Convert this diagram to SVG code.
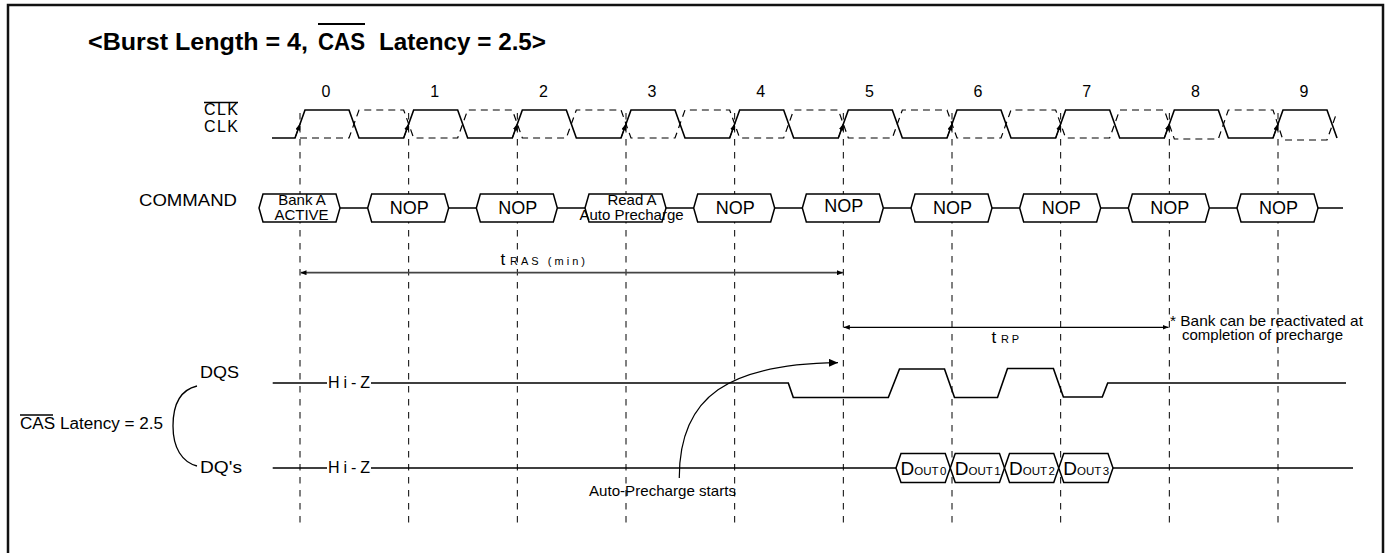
<svg xmlns="http://www.w3.org/2000/svg" width="1388" height="553" viewBox="0 0 1388 553">
<style>
.t{font-family:"Liberation Sans",Arial,sans-serif;fill:#000}
.b{font-weight:bold}
.sig{fill:none;stroke:#000;stroke-width:1.6;stroke-linejoin:miter}
.cdash{fill:none;stroke:#000;stroke-width:1.2;stroke-dasharray:7 5}
.grid{stroke:#000;stroke-width:1;stroke-dasharray:6.5 6.5}
.box{fill:#fff;stroke:#000;stroke-width:1.5}
.ov{stroke:#000;stroke-width:1.4}
</style>
<defs>
<marker id="edge" markerUnits="userSpaceOnUse" markerWidth="7" markerHeight="5" refX="7" refY="2.5" orient="auto"><path d="M0,0 L7,2.5 L0,5 z" fill="#000"/></marker>
<marker id="dim" markerUnits="userSpaceOnUse" markerWidth="6" markerHeight="5" refX="6" refY="2.5" orient="auto-start-reverse"><path d="M0,0 L6,2.5 L0,5 z" fill="#000"/></marker>
<marker id="big" markerUnits="userSpaceOnUse" markerWidth="9" markerHeight="8" refX="9" refY="4" orient="auto"><path d="M0,0 L9,4 L0,8 z" fill="#000"/></marker>
</defs>
<rect width="1388" height="553" fill="#fff"/>
<rect x="8" y="5" width="1375" height="600" fill="none" stroke="#111" stroke-width="2.5"/>

<g id="title">
<text class="t b" x="88" y="50" font-size="24" textLength="220" lengthAdjust="spacingAndGlyphs">&lt;Burst Length = 4,</text>
<text class="t b" x="318" y="50" font-size="24" textLength="47" lengthAdjust="spacingAndGlyphs">CAS</text>
<line x1="318" y1="24" x2="365" y2="24" stroke="#000" stroke-width="2"/>
<text class="t b" x="379" y="50" font-size="24" textLength="167" lengthAdjust="spacingAndGlyphs">Latency = 2.5&gt;</text>
</g>

<g id="grid">
<line class="grid" x1="300" y1="113" x2="300" y2="525"/>
<line class="grid" x1="408.67" y1="113" x2="408.67" y2="525"/>
<line class="grid" x1="517.33" y1="113" x2="517.33" y2="525"/>
<line class="grid" x1="626" y1="113" x2="626" y2="525"/>
<line class="grid" x1="734.67" y1="113" x2="734.67" y2="525"/>
<line class="grid" x1="843.33" y1="113" x2="843.33" y2="525"/>
<line class="grid" x1="952" y1="113" x2="952" y2="525"/>
<line class="grid" x1="1060.67" y1="113" x2="1060.67" y2="525"/>
<line class="grid" x1="1169.33" y1="113" x2="1169.33" y2="525"/>
<line class="grid" x1="1278" y1="113" x2="1278" y2="525"/>
</g>

<g id="clock-numbers" class="t" font-size="16" text-anchor="middle">
<text x="326" y="97">0</text>
<text x="434.67" y="97">1</text>
<text x="543.33" y="97">2</text>
<text x="652" y="97">3</text>
<text x="760.67" y="97">4</text>
<text x="869.33" y="97">5</text>
<text x="978" y="97">6</text>
<text x="1086.67" y="97">7</text>
<text x="1195.33" y="97">8</text>
<text x="1304" y="97">9</text>
</g>

<g id="clk">
<text class="t" x="204" y="115" font-size="16" textLength="34" lengthAdjust="spacing">CLK</text>
<line class="ov" x1="204" y1="102.5" x2="238" y2="102.5"/>
<text class="t" x="204" y="132" font-size="16" textLength="34" lengthAdjust="spacing">CLK</text>
<path class="cdash" d="M300,138 H349 L359,110 H403.67 L413.67,138 H457.67 L467.67,110 H512.33 L522.33,138 H566.33 L576.33,110 H621 L631,138 H675 L685,110 H729.67 L739.67,138 H783.67 L793.67,110 H838.33 L848.33,138 H892.33 L902.33,110 H947 L957,138 H1001 L1011,110 H1055.67 L1065.67,138 H1109.67 L1119.67,110 H1164.33 L1174.33,139 H1218.33 L1228.33,110 H1273 L1283,140 H1327 L1337,112"/>
<path class="sig" d="M272,138 H295 L305,110 H349 L359,138 H403.67 L413.67,110 H457.67 L467.67,138 H512.33 L522.33,110 H566.33 L576.33,138 H621 L631,110 H675 L685,138 H729.67 L739.67,110 H783.67 L793.67,138 H838.33 L848.33,110 H892.33 L902.33,138 H947 L957,110 H1001 L1011,138 H1055.67 L1065.67,110 H1109.67 L1119.67,138 H1164.33 L1174.33,110 H1218.33 L1228.33,138 H1273 L1283,110 H1327 L1337,138"/>
<g stroke="#000" stroke-width="1" marker-end="url(#edge)">
<line x1="295" y1="138" x2="300.2" y2="123.5"/>
<line x1="403.67" y1="138" x2="408.87" y2="123.5"/>
<line x1="512.33" y1="138" x2="517.53" y2="123.5"/>
<line x1="621" y1="138" x2="626.2" y2="123.5"/>
<line x1="729.67" y1="138" x2="734.87" y2="123.5"/>
<line x1="838.33" y1="138" x2="843.53" y2="123.5"/>
<line x1="947" y1="138" x2="952.2" y2="123.5"/>
<line x1="1055.67" y1="138" x2="1060.87" y2="123.5"/>
<line x1="1164.33" y1="138" x2="1169.53" y2="123.5"/>
<line x1="1273" y1="138" x2="1278.2" y2="123.5"/>
</g>
</g>

<g id="command-label"><text class="t" x="139" y="206" font-size="17" textLength="98" lengthAdjust="spacingAndGlyphs">COMMAND</text></g>

<g id="command-bus" class="sig">
<path d="M340,208 H367.67 M448.67,208 H476.33 M557.33,208 H585 M666,208 H693.67 M774.67,208 H802.33 M883.33,208 H911 M992,208 H1019.67 M1100.67,208 H1128.33 M1209.33,208 H1237 M1318,208 H1343"/>
</g>

<g id="cmd0"><polygon class="box" points="259,208 263,194 336,194 340,208 336,222 263,222"/>
<text class="t" font-size="15" text-anchor="middle"><tspan x="302" y="205">Bank A</tspan><tspan x="301.5" y="219.5">ACTIVE</tspan></text></g>
<g id="cmd1"><polygon class="box" points="367.67,208 371.67,194 444.67,194 448.67,208 444.67,222 371.67,222"/>
<text class="t" x="409.17" y="214" font-size="18" text-anchor="middle">NOP</text></g>
<g id="cmd2"><polygon class="box" points="476.33,208 480.33,194 553.33,194 557.33,208 553.33,222 480.33,222"/>
<text class="t" x="517.83" y="214" font-size="18" text-anchor="middle">NOP</text></g>
<g id="cmd3"><polygon class="box" points="585,208 589,194 662,194 666,208 662,222 589,222"/>
<text class="t" font-size="15" text-anchor="middle"><tspan x="632" y="205">Read A</tspan><tspan x="631.5" y="219.5">Auto Precharge</tspan></text></g>
<g id="cmd4"><polygon class="box" points="693.67,208 697.67,194 770.67,194 774.67,208 770.67,222 697.67,222"/>
<text class="t" x="735.17" y="214" font-size="18" text-anchor="middle">NOP</text></g>
<g id="cmd5"><polygon class="box" points="802.33,208 806.33,194 879.33,194 883.33,208 879.33,222 806.33,222"/>
<text class="t" x="843.83" y="212" font-size="18" text-anchor="middle">NOP</text></g>
<g id="cmd6"><polygon class="box" points="911,208 915,194 988,194 992,208 988,222 915,222"/>
<text class="t" x="952.5" y="214" font-size="18" text-anchor="middle">NOP</text></g>
<g id="cmd7"><polygon class="box" points="1019.67,208 1023.67,194 1096.67,194 1100.67,208 1096.67,222 1023.67,222"/>
<text class="t" x="1061.17" y="214" font-size="18" text-anchor="middle">NOP</text></g>
<g id="cmd8"><polygon class="box" points="1128.33,208 1132.33,194 1205.33,194 1209.33,208 1205.33,222 1132.33,222"/>
<text class="t" x="1169.83" y="214" font-size="18" text-anchor="middle">NOP</text></g>
<g id="cmd9"><polygon class="box" points="1237,208 1241,194 1314,194 1318,208 1314,222 1241,222"/>
<text class="t" x="1278.5" y="214" font-size="18" text-anchor="middle">NOP</text></g>

<g id="latency-label">
<text class="t" x="20" y="428.5" font-size="16" textLength="143" lengthAdjust="spacingAndGlyphs">CAS Latency = 2.5</text>
<line class="ov" x1="20" y1="415" x2="53" y2="415"/>
<path d="M197,386 C180,390 173,405 173,426 C173,448 182,462 197,466" fill="none" stroke="#000" stroke-width="1.3"/>
</g>

<g id="dqs">
<text class="t" x="200" y="378" font-size="17" textLength="39" lengthAdjust="spacingAndGlyphs">DQS</text>
<text class="t" x="328" y="387.5" font-size="16" textLength="42" lengthAdjust="spacing">Hi-Z</text>
<path class="sig" d="M272.7,383 H327 M371,383 H788.3 L793.3,397.5 H888.3 L899.5,369 H944.5 L954.5,397.5 H997.5 L1007.5,368.5 H1053.4 L1063.4,397 H1102.3 L1107.7,383 H1346"/>
</g>

<g id="dq">
<text class="t" x="200" y="473" font-size="17" textLength="42" lengthAdjust="spacingAndGlyphs">DQ's</text>
<text class="t" x="328" y="472.5" font-size="16" textLength="42" lengthAdjust="spacing">Hi-Z</text>
<path class="sig" d="M272.7,468 H327 M371,468 H896 M1113,468 H1353"/>
</g>

<g id="dout0"><polygon class="box" points="896,468 901,453.5 945.25,453.5 950.25,468 945.25,482.5 901,482.5"/>
<text class="t" x="900.5" y="474.5" font-size="19">D<tspan font-size="11.5">OUT</tspan><tspan font-size="11.5" dx="1.5">0</tspan></text></g>
<g id="dout1"><polygon class="box" points="950.25,468 955.25,453.5 999.5,453.5 1004.5,468 999.5,482.5 955.25,482.5"/>
<text class="t" x="954.75" y="474.5" font-size="19">D<tspan font-size="11.5">OUT</tspan><tspan font-size="11.5" dx="1.5">1</tspan></text></g>
<g id="dout2"><polygon class="box" points="1004.5,468 1009.5,453.5 1053.75,453.5 1058.75,468 1053.75,482.5 1009.5,482.5"/>
<text class="t" x="1009" y="474.5" font-size="19">D<tspan font-size="11.5">OUT</tspan><tspan font-size="11.5" dx="1.5">2</tspan></text></g>
<g id="dout3"><polygon class="box" points="1058.75,468 1063.75,453.5 1108,453.5 1113,468 1108,482.5 1063.75,482.5"/>
<text class="t" x="1063.25" y="474.5" font-size="19">D<tspan font-size="11.5">OUT</tspan><tspan font-size="11.5" dx="1.5">3</tspan></text></g>

<g id="connectors">
<line x1="300.5" y1="272.7" x2="843" y2="272.7" stroke="#444" stroke-width="1.8" marker-start="url(#dim)" marker-end="url(#dim)"/>
<line x1="843.8" y1="327.3" x2="1168.5" y2="327.3" stroke="#000" stroke-width="1.2" marker-start="url(#dim)" marker-end="url(#dim)"/>
<path d="M679.3,478 C679,395 730,364 838,362.7" fill="none" stroke="#000" stroke-width="1.2" marker-end="url(#big)"/>
</g>

<g id="annotations">
<text class="t" x="500.5" y="264.5" font-size="17">t</text>
<text class="t" x="510" y="264.5" font-size="11" textLength="75" lengthAdjust="spacing">RAS (min)</text>
<text class="t" x="991.5" y="343" font-size="17">t</text>
<text class="t" x="1001" y="343" font-size="11" textLength="18" lengthAdjust="spacing">RP</text>
<text class="t" x="1170" y="325.5" font-size="15" textLength="193" lengthAdjust="spacingAndGlyphs">* Bank can be reactivated at</text>
<text class="t" x="1182" y="340" font-size="15" textLength="161" lengthAdjust="spacingAndGlyphs">completion of precharge</text>
<text class="t" x="589" y="495.5" font-size="15" textLength="147" lengthAdjust="spacingAndGlyphs">Auto-Precharge starts</text>
</g>
</svg>
